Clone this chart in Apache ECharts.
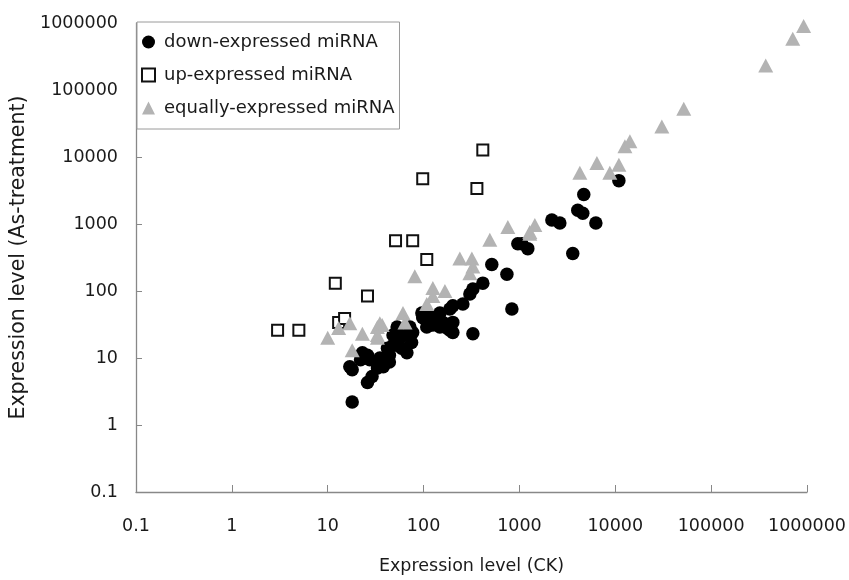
<!DOCTYPE html>
<html>
<head>
<meta charset="utf-8">
<script src="https://cdn.jsdelivr.net/npm/echarts@6/dist/echarts.min.js"></script>
<style>html,body{margin:0;padding:0;background:#fff}#c{width:849px;height:580px}</style>
</head>
<body>
<div id="c"></div>
<script>
var seriesNames = ['down-expressed miRNA', 'up-expressed miRNA', 'equally-expressed miRNA'];
var xTickLabels = ['0.1', '1', '10', '100', '1000', '10000', '100000', '1000000'];
var yTickLabels = ['0.1', '1', '10', '100', '1000', '10000', '100000', '1000000'];
var downExpressed = [
  [18,2.2],[18,6.7],[17,7.4],[22,9.4],[23,12],[26,11],[26,4.3],[29,5.3],[27.5,9.4],[33,7.9],
  [33,7.1],[35,10],[38,7.4],[38,8.7],[44,8.7],[44,11],[42,14],[48,15.5],[53,15.5],[54,20],
  [57,20],[48,22],[53,24],[53,29],[67,22],[72,24],[72,29],[77,24],[75,17],[67,12],
  [59,14],[98,40],[96,47],[108,29],[116,31],[125,31],[148,34],[159,34],[175,28],[188,26],
  [202,24],[188,54],[202,60],[148,47],[116,43],[148,29],[202,34],[257,64],[304,90],[327,107],
  [415,131],[515,249],[740,178],[834,54],[327,23],[962,508],[1223,429],[1059,508],[2180,1145],[2640,1035],
  [3600,362],[4060,1607],[4580,1452],[4690,2760],[6270,1035],[10900,4440]
];
var upExpressed = [
  [3,26],[5,26],[12,131],[13,34],[15,39],[26,84],[51,562],[77,562],[108,296],[98,4740],[360,3380],[415,12700]
];
var equallyExpressed = [
  [10,20],[13,28],[17,33],[18,13],[23,23],[33,29],[37,31],[33,20],[35,33],[33,22],
  [61,47],[64,34],[108,64],[125,84],[81,166],[125,111],[167,100],[239,306],[319,306],[327,233],
  [304,184],[491,582],[757,904],[1283,762],[1448,966],[1283,713],[4270,5820],[6430,8160],[8770,5820],[10900,7630],
  [12600,14500],[14200,17200],[30600,28600],[51800,52600],[371000,233000],[710000,582000],[922000,903000]
];

function tickIndex(v){ return Math.round(Math.log(v) / Math.LN10) + 1; }
var FONT = 'DejaVu Sans';
var chart = echarts.init(document.getElementById('c'), null, {renderer: 'canvas'});
chart.setOption({
  animation: false,
  backgroundColor: '#fff',
  grid: {left: 136, right: 42, top: 23, bottom: 81, containLabel: false},
  legend: {
    orient: 'vertical', left: 137, top: 22,
    backgroundColor: '#fff',
    borderColor: '#9a9a9a', borderWidth: 1,
    padding: [11, 5, 12, 4],
    itemWidth: 13, itemHeight: 13, itemGap: 15,
    textStyle: {fontFamily: FONT, fontSize: 18, color: '#1a1a1a', padding: [0, 0, 0, 4]},
    data: [
      {name: seriesNames[0], icon: 'circle'},
      {name: seriesNames[1], icon: 'rect'},
      {name: seriesNames[2], icon: 'triangle'}
    ]
  },
  xAxis: {
    type: 'log', logBase: 10, min: 0.1, max: 1000000,
    name: 'Expression level (CK)', nameLocation: 'middle', nameGap: 65,
    nameTextStyle: {fontFamily: FONT, fontSize: 17.5, color: '#1a1a1a'},
    axisLine: {lineStyle: {color: '#888', width: 1.3}},
    axisTick: {inside: true, length: 7, lineStyle: {color: '#888'}},
    axisLabel: {margin: 25, fontFamily: FONT, fontSize: 17.5, color: '#1a1a1a',
      formatter: function(v){ return xTickLabels[tickIndex(v)]; }},
    splitLine: {show: false}
  },
  yAxis: {
    type: 'log', logBase: 10, min: 0.1, max: 1000000,
    name: 'Expression level (As-treatment)', nameLocation: 'middle', nameGap: 107,
    nameTextStyle: {fontFamily: FONT, fontSize: 20.5, color: '#1a1a1a'},
    axisLine: {lineStyle: {color: '#888', width: 1.3}},
    axisTick: {inside: true, length: 6, lineStyle: {color: '#888'}},
    axisLabel: {margin: 18, fontFamily: FONT, fontSize: 17.5, color: '#1a1a1a',
      formatter: function(v){ return yTickLabels[tickIndex(v)]; }},
    splitLine: {show: false}
  },
  series: [
    {name: seriesNames[0], type: 'scatter', symbol: 'circle', symbolSize: 13.5,
     itemStyle: {color: '#000', opacity: 1}, data: downExpressed, z: 2},
    {name: seriesNames[1], type: 'scatter', symbol: 'rect', symbolSize: 11,
     itemStyle: {color: '#fff', borderColor: '#111', borderWidth: 2, opacity: 1}, data: upExpressed, z: 3},
    {name: seriesNames[2], type: 'scatter', symbol: 'triangle', symbolSize: [15, 14],
     itemStyle: {color: '#b3b3b3', opacity: 1}, data: equallyExpressed, z: 4}
  ]
});
</script>
</body>
</html>
